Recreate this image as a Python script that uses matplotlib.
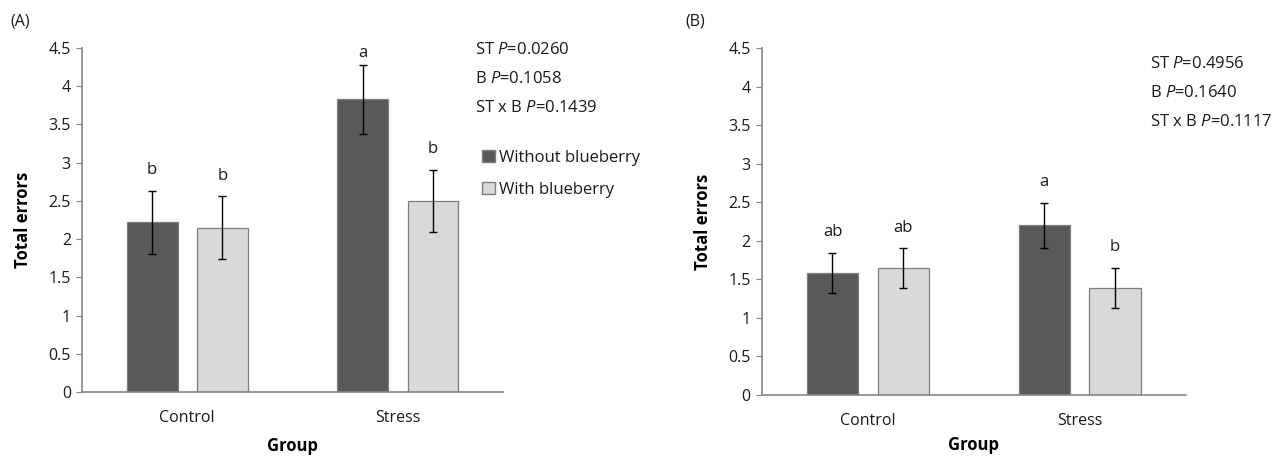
import numpy as np
import matplotlib.pyplot as plt
from matplotlib.patches import Patch

plt.rcParams['font.family'] = ['Open Sans', 'DejaVu Sans']
plt.rcParams['mathtext.fontset'] = 'custom'
plt.rcParams['mathtext.it'] = 'Open Sans:italic'
plt.rcParams['mathtext.rm'] = 'Open Sans'

groups = ['Control', 'Stress']
series = ['Without blueberry', 'With blueberry']

# panel A
a_without = [2.22, 3.83]
a_without_err = [0.41, 0.45]
a_with = [2.15, 2.50]
a_with_err = [0.41, 0.41]
a_letters_without = ['b', 'a']
a_letters_with = ['b', 'b']
a_stats = ['ST $\\it{P}$=0.0260', 'B $\\it{P}$=0.1058', 'ST x B $\\it{P}$=0.1439']

# panel B
b_without = [1.58, 2.20]
b_without_err = [0.26, 0.29]
b_with = [1.64, 1.39]
b_with_err = [0.26, 0.26]
b_letters_without = ['ab', 'a']
b_letters_with = ['ab', 'b']
b_stats = ['ST $\\it{P}$=0.4956', 'B $\\it{P}$=0.1640', 'ST x B $\\it{P}$=0.1117']

yticks = [0, 0.5, 1, 1.5, 2, 2.5, 3, 3.5, 4, 4.5]
ytick_labels = ['0', '0.5', '1', '1.5', '2', '2.5', '3', '3.5', '4', '4.5']

dark = '#595959'
light = '#d9d9d9'
edge = '#7f7f7f'
axis_col = '#868686'
txt = '#1a1a1a'

fig = plt.figure(figsize=(12.72, 4.57), dpi=100)
axA = fig.add_axes([0.0645, 0.142, 0.331, 0.753])
axB = fig.add_axes([0.599, 0.136, 0.333, 0.759])


def draw(ax, v1, e1, v2, e2, l1, l2, xpad):
    x = np.arange(len(groups))
    off = 0.167
    w = 0.242
    for xs, vals, errs, col, lets in [(x - off, v1, e1, dark, l1), (x + off, v2, e2, light, l2)]:
        ax.bar(xs, vals, w, color=col, edgecolor=edge, linewidth=0.9, zorder=2)
        ax.errorbar(xs, vals, yerr=errs, fmt='none', ecolor='black', elinewidth=1,
                    capsize=3, capthick=1, zorder=3)
        for xi, vi, ei, li in zip(xs, vals, errs, lets):
            # label sits above the error bar, but stays under the axis top
            ly = min(vi + ei + 0.27, 4.44)
            ax.text(xi, ly, li, ha='center', va='center', fontsize=12, color=txt)
    ax.set_xlim(-0.5, 1.5)
    ax.set_ylim(0, 4.5)
    ax.set_yticks(yticks)
    ax.set_yticklabels(ytick_labels)
    ax.set_xticks(x)
    ax.set_xticklabels(groups)
    ax.tick_params(axis='x', length=0, pad=13, labelsize=11.5, labelcolor=txt)
    ax.tick_params(axis='y', length=4, color=axis_col, labelsize=11.5, pad=4, labelcolor=txt)
    for s in ['top', 'right']:
        ax.spines[s].set_visible(False)
    for s in ['left', 'bottom']:
        ax.spines[s].set_color(axis_col)
        ax.spines[s].set_linewidth(1.2)
    ax.set_ylabel('Total errors', fontsize=12, fontweight='bold', labelpad=12)
    ax.set_xlabel('Group', fontsize=12, fontweight='bold', labelpad=xpad)


draw(axA, a_without, a_without_err, a_with, a_with_err, a_letters_without, a_letters_with, 8)
draw(axB, b_without, b_without_err, b_with, b_with_err, b_letters_without, b_letters_with, 5)

for i, s in enumerate(a_stats):
    fig.text(475 / 1272, 1 - (50 + 29 * i) / 457, s, fontsize=12, va='center', ha='left', color=txt)
for i, s in enumerate(b_stats):
    fig.text(1150 / 1272, 1 - (64 + 29 * i) / 457, s, fontsize=12, va='center', ha='left', color=txt)

handles = [Patch(facecolor=dark, edgecolor=edge), Patch(facecolor=light, edgecolor=edge)]
fig.legend(handles, series, loc='upper left', bbox_to_anchor=(467 / 1272, 1 - 135 / 457),
           frameon=False, fontsize=12, handlelength=0.75, handleheight=0.75,
           handletextpad=0.25, labelspacing=0.95, labelcolor=txt)

fig.text(10 / 1272, 1 - 22 / 457, '(A)', fontsize=11.5, va='center', ha='left', color=txt)
fig.text(685 / 1272, 1 - 22 / 457, '(B)', fontsize=11.5, va='center', ha='left', color=txt)

fig.savefig('out.png', dpi=100)
